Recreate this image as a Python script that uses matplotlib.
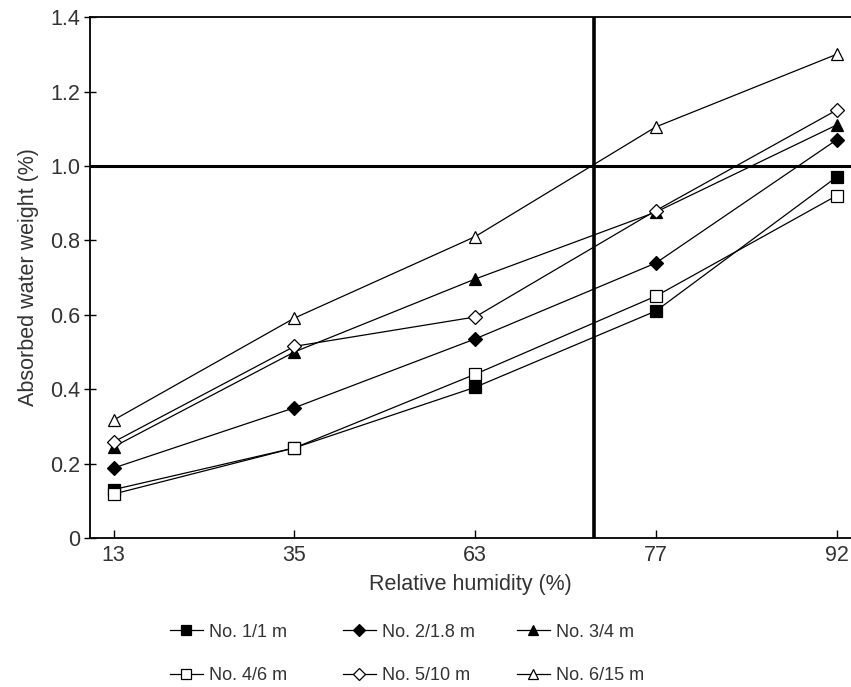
import numpy as np
import matplotlib.pyplot as plt
from matplotlib.ticker import FixedLocator, FixedFormatter

humidity = ["13", "35", "63", "77", "92"]

no1 = [0.13, 0.242, 0.405, 0.61, 0.97]
no2 = [0.188, 0.35, 0.535, 0.739, 1.07]
no3 = [0.245, 0.50, 0.696, 0.876, 1.11]
no4 = [0.118, 0.242, 0.44, 0.65, 0.92]
no5 = [0.258, 0.515, 0.594, 0.88, 1.15]
no6 = [0.317, 0.591, 0.81, 1.105, 1.30]

labels = ["No. 1/1 m", "No. 2/1.8 m", "No. 3/4 m",
          "No. 4/6 m", "No. 5/10 m", "No. 6/15 m"]

y_ticks = [0, 0.2, 0.4, 0.6, 0.8, 1.0, 1.2, 1.4]
y_tick_labels = ["0", "0.2", "0.4", "0.6", "0.8", "1.0", "1.2", "1.4"]

# reference lines of the figure
h_ref = 1.0
v_ref = 2.66  # between 63 and 77

plt.rcParams['font.family'] = ['Liberation Sans', 'DejaVu Sans']

fig = plt.figure(figsize=(8.51, 6.87), dpi=100)
ax = fig.add_axes([0.106, 0.217, 0.894, 0.758])

x = np.arange(len(humidity))
series = [
    (no1, 's', 'black'),
    (no2, 'D', 'black'),
    (no3, '^', 'black'),
    (no4, 's', 'white'),
    (no5, 'D', 'white'),
    (no6, '^', 'white'),
]
handles = []
for (vals, mk, fc), lab in zip(series, labels):
    ms = 8 if mk != 'D' else 7
    h, = ax.plot(x, vals, color='black', lw=0.9, marker=mk, markersize=ms,
                 markerfacecolor=fc, markeredgecolor='black', markeredgewidth=0.9,
                 label=lab)
    handles.append(h)

ax.axhline(h_ref, color='black', lw=2.2, zorder=1)
ax.axvline(v_ref, color='black', lw=2.6, zorder=1)

ax.set_xlim(-0.13, 4.08)
ax.set_ylim(0, 1.4)
ax.set_xticks(x)
ax.set_xticklabels(humidity)
ax.yaxis.set_major_locator(FixedLocator(y_ticks))
ax.yaxis.set_major_formatter(FixedFormatter(y_tick_labels))
ax.tick_params(direction='in', length=6, width=1, labelsize=15.5,
               labelcolor='#333333', pad=5)
ax.tick_params(axis='y', direction='inout', length=8, pad=3)

for s in ['left', 'bottom', 'top']:
    ax.spines[s].set_linewidth(1.3)
ax.spines['right'].set_visible(False)

ax.set_xlabel("Relative humidity (%)", fontsize=15.5, color='#333333', labelpad=6)
ax.set_ylabel("Absorbed water weight (%)", fontsize=15.5, color='#333333', labelpad=8)

# legend: three columns of two, each column placed on its own
col_x = [170 / 851, 343 / 851, 517 / 851]
for c in range(3):
    hs = [handles[c], handles[c + 3]]
    ls = [labels[c], labels[c + 3]]
    fig.legend(hs, ls, loc='upper left', bbox_to_anchor=(col_x[c], 0.092),
               borderaxespad=0, borderpad=0, frameon=False, fontsize=13,
               handlelength=1.8, handletextpad=0.35, labelspacing=1.45,
               markerscale=0.85, labelcolor='#333333')

fig.savefig("out.png", dpi=100)
